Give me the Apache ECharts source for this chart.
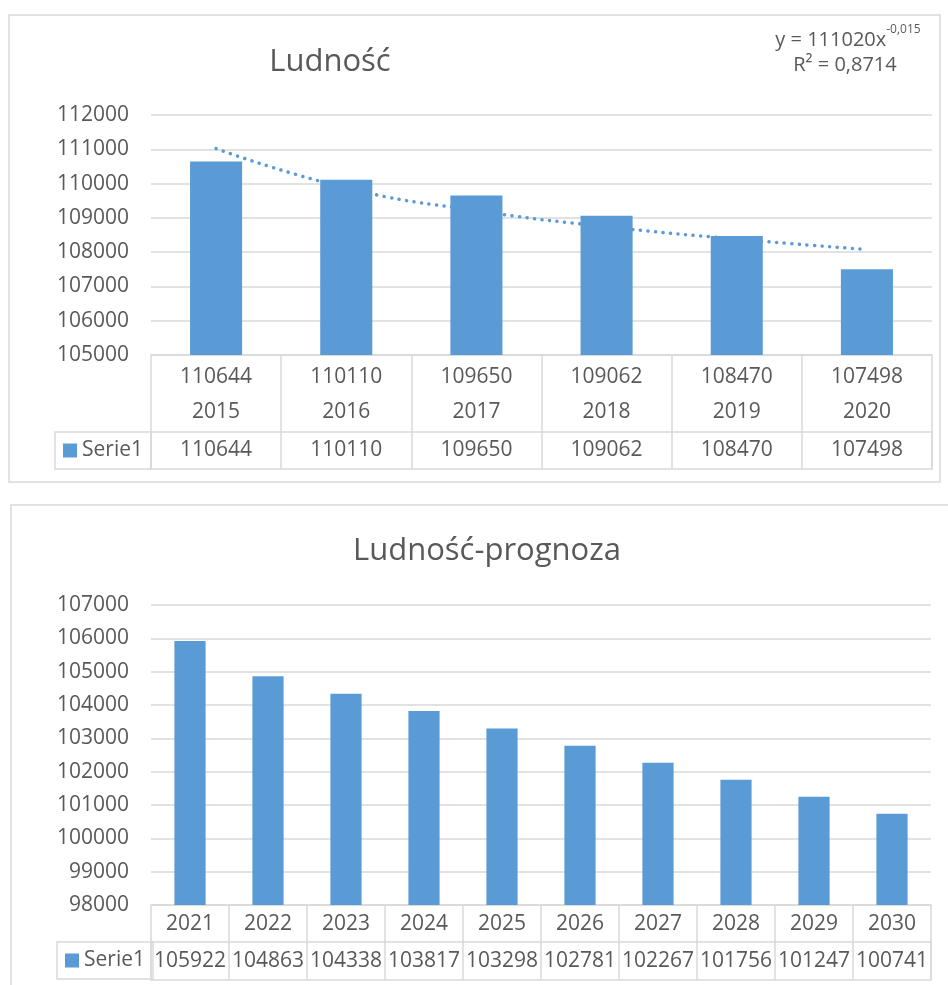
<!DOCTYPE html>
<html>
<head>
<meta charset="utf-8">
<script src="https://cdn.jsdelivr.net/npm/echarts@6/dist/echarts.min.js"></script>
<style>
  html, body { margin: 0; padding: 0; background: #fff; }
  #chart { width: 948px; height: 985px; }
</style>
</head>
<body>
<div id="chart"></div>
<script>
// dane - ludność 2015-2020
const years = ['2015', '2016', '2017', '2018', '2019', '2020'];
const population = [110644, 110110, 109650, 109062, 108470, 107498];
// linia trendu (potęgowa)
const trend = [111020, 109875, 109211, 108743, 108381, 108077];

// prognoza 2021-2030
const forecastYears = ['2021', '2022', '2023', '2024', '2025', '2026', '2027', '2028', '2029', '2030'];
const forecast = [105922, 104863, 104338, 103817, 103298, 102781, 102267, 101756, 101247, 100741];

const FONT = '"Open Sans", "Noto Sans", sans-serif';
const TXT = '#595959';
const LINE = '#d9d9d9';
const BLUE = '#5b9bd5';

let myChart = echarts.init(document.getElementById('chart'));

function valueAxis(gridIndex, min, max) {
  return {
    type: 'value',
    gridIndex: gridIndex,
    min: min,
    max: max,
    interval: 1000,
    axisLine: { show: false },
    axisTick: { show: false },
    splitLine: { lineStyle: { color: LINE, width: 1.5 } },
    axisLabel: {
      color: TXT,
      fontSize: 21,
      fontFamily: FONT,
      margin: 22,
      formatter: v => String(v)
    }
  };
}

// wiersz tabeli z wartościami (Serie1)
function tableRow(gridIndex, cats) {
  return {
    x: {
      type: 'category',
      gridIndex: gridIndex,
      data: cats,
      axisLine: { show: false },
      axisTick: { show: false },
      axisLabel: { show: false },
      splitLine: { show: true, interval: 0, lineStyle: { color: LINE, width: 1.5 } }
    },
    y: { type: 'value', gridIndex: gridIndex, min: 0, max: 1, show: false }
  };
}

function rowSeries(idx, vals) {
  return {
    name: 'tabela' + idx,
    type: 'scatter',
    xAxisIndex: idx,
    yAxisIndex: idx,
    symbolSize: 0,
    silent: true,
    itemStyle: { opacity: 1 },
    data: vals.map((v, i) => [i, 0.5, v]),
    label: {
      show: true,
      position: 'inside',
      formatter: p => p.value[2],
      color: TXT,
      opacity: 1,
      fontSize: 21,
      fontFamily: FONT
    }
  };
}

const row1 = tableRow(1, years);
const row2 = tableRow(3, forecastYears);

function legendCell(left, top) {
  return {
    data: ['Serie1'],
    left: left,
    top: top,
    orient: 'horizontal',
    icon: 'rect',
    itemWidth: 14,
    itemHeight: 14,
    padding: [8, 8, 8, 8],
    borderColor: LINE,
    borderWidth: 1.5,
    selectedMode: false,
    textStyle: { color: TXT, fontSize: 21, fontFamily: FONT, lineHeight: 21 }
  };
}

let option = {
  animation: false,
  backgroundColor: '#fff',
  textStyle: { fontFamily: FONT },
  graphic: [
    {
      type: 'rect',
      shape: { x: 9, y: 15, width: 931, height: 467 },
      style: { fill: 'none', stroke: LINE, lineWidth: 1.5 },
      silent: true
    },
    {
      type: 'rect',
      shape: { x: 11, y: 505, width: 950, height: 500 },
      style: { fill: 'none', stroke: LINE, lineWidth: 1.5 },
      silent: true
    },
    {
      type: 'text',
      x: 330,
      y: 62,
      style: {
        text: 'Ludność',
        fill: TXT,
        fontSize: 31,
        fontFamily: FONT,
        align: 'center',
        verticalAlign: 'middle'
      }
    },
    {
      type: 'text',
      x: 487,
      y: 551,
      style: {
        text: 'Ludność-prognoza',
        fill: TXT,
        fontSize: 31,
        fontFamily: FONT,
        align: 'center',
        verticalAlign: 'middle'
      }
    },
    {
      type: 'text',
      x: 848,
      y: 37,
      style: {
        text: '{a|y = 111020x}{b|-0,015}',
        align: 'center',
        verticalAlign: 'middle',
        rich: {
          a: { fill: TXT, fontSize: 20, fontFamily: FONT, lineHeight: 26, verticalAlign: 'bottom' },
          b: { fill: TXT, fontSize: 12, fontFamily: FONT, lineHeight: 26, verticalAlign: 'top' }
        }
      }
    },
    {
      type: 'text',
      x: 845,
      y: 65,
      style: {
        text: 'R² = 0,8714',
        fill: TXT,
        fontSize: 20,
        fontFamily: FONT,
        align: 'center',
        verticalAlign: 'middle'
      }
    }
  ],
  legend: [legendCell(55, 432), legendCell(57, 942)],
  grid: [
    { left: 151, top: 115, width: 781, height: 240 },
    { left: 151, top: 432, width: 781, height: 37, show: true, borderColor: LINE, borderWidth: 1.5 },
    { left: 151, top: 605, width: 780, height: 300 },
    { left: 151, top: 942, width: 780, height: 38, show: true, borderColor: LINE, borderWidth: 1.5 }
  ],
  xAxis: [
    {
      type: 'category',
      gridIndex: 0,
      data: years,
      axisLine: { lineStyle: { color: LINE, width: 1.5 } },
      axisTick: { show: true, length: 77, interval: 0, lineStyle: { color: LINE, width: 1.5 } },
      axisLabel: {
        interval: 0,
        margin: 5,
        color: TXT,
        fontSize: 21,
        fontFamily: FONT,
        lineHeight: 35,
        formatter: (v, i) => population[i] + '\n' + v
      }
    },
    row1.x,
    {
      type: 'category',
      gridIndex: 2,
      data: forecastYears,
      axisLine: { lineStyle: { color: LINE, width: 1.5 } },
      axisTick: { show: true, length: 37, interval: 0, lineStyle: { color: LINE, width: 1.5 } },
      axisLabel: { interval: 0, margin: 4, color: TXT, fontSize: 21, fontFamily: FONT, lineHeight: 30 }
    },
    row2.x
  ],
  yAxis: [
    valueAxis(0, 105000, 112000),
    row1.y,
    valueAxis(2, 98000, 107000),
    row2.y
  ],
  series: [
    {
      name: 'Serie1',
      type: 'bar',
      xAxisIndex: 0,
      yAxisIndex: 0,
      barWidth: '40%',
      itemStyle: { color: BLUE },
      data: population
    },
    {
      name: 'trend',
      type: 'line',
      xAxisIndex: 0,
      yAxisIndex: 0,
      smooth: true,
      symbol: 'none',
      silent: true,
      lineStyle: { color: BLUE, width: 3.5, type: [0.1, 7.5], cap: 'round' },
      data: trend,
      z: 5
    },
    rowSeries(1, population),
    {
      name: 'Serie1',
      type: 'bar',
      xAxisIndex: 2,
      yAxisIndex: 2,
      barWidth: '40%',
      itemStyle: { color: BLUE },
      data: forecast
    },
    rowSeries(3, forecast)
  ]
};

myChart.setOption(option);
</script>
</body>
</html>
